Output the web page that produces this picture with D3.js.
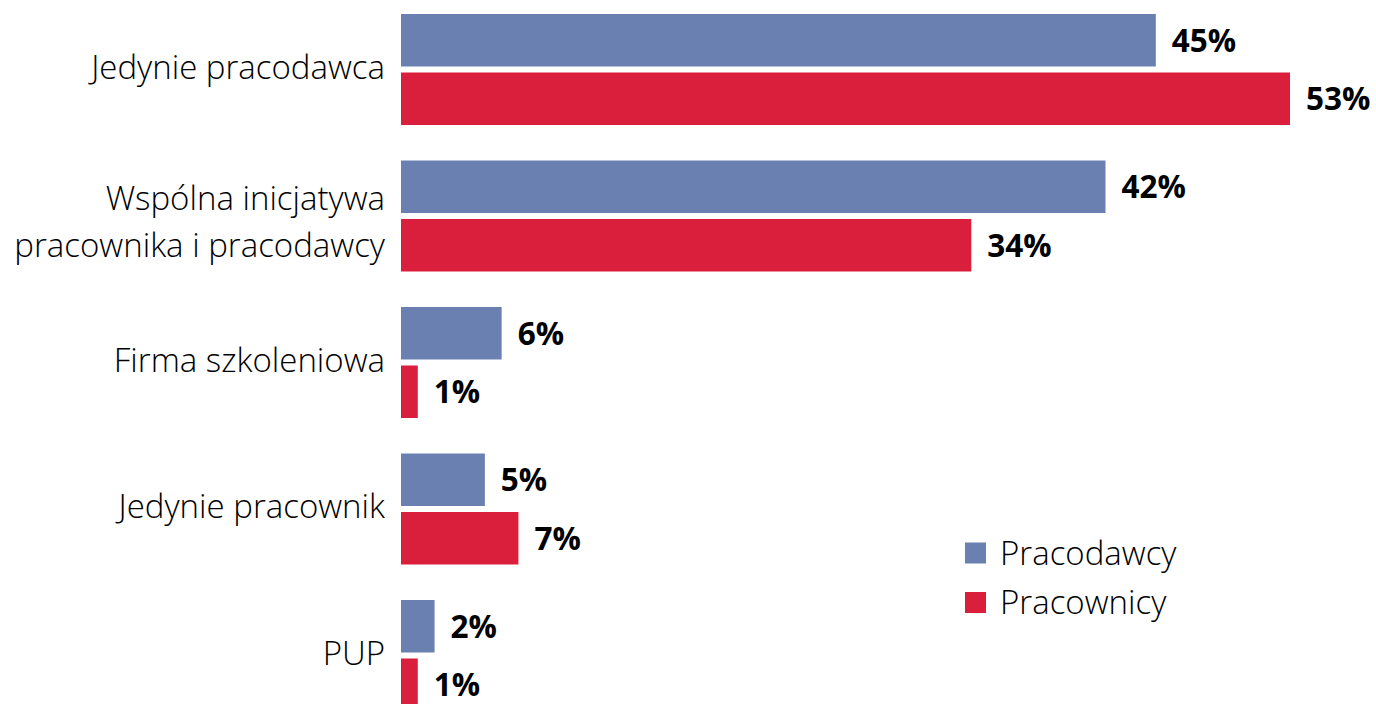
<!DOCTYPE html>
<html><head><meta charset="utf-8">
<script src="https://cdn.jsdelivr.net/npm/d3@7"></script>
<style>body{margin:0;background:#fff}svg{display:block}</style>
</head><body>
<script>
const categories = [["Jedynie pracodawca"], ["Wspólna inicjatywa", "pracownika i pracodawcy"], ["Firma szkoleniowa"], ["Jedynie pracownik"], ["PUP"]];
const seriesNames = ["Pracodawcy", "Pracownicy"];
const pracodawcy = [45, 42, 6, 5, 2];
const pracownicy = [53, 34, 1, 7, 1];
const colors = ["#6A80B1", "#D91F3C"];

const W = 1376, H = 704;
const svg = d3.select("body").append("svg").attr("width", W).attr("height", H);
const catKeys = categories.map((c, i) => i);
const y0 = d3.scaleBand().domain(catKeys).range([-3.75, 728.75]).paddingInner(0.2423).paddingOuter(0.12115);
const y1 = d3.scaleBand().domain(seriesNames).range([0, y0.bandwidth()]).paddingInner(0.1026);
const x = d3.scaleLinear().domain([0, 53]).range([401, 1290]);
const values = [pracodawcy, pracownicy];
const labelFont = "'Open Sans', sans-serif";

const g = svg.append("g");
catKeys.forEach(i => {
  seriesNames.forEach((s, si) => {
    const v = values[si][i];
    const yy = y0(i) + y1(s);
    g.append("rect").attr("x", x(0)).attr("y", yy).attr("width", x(v) - x(0)).attr("height", y1.bandwidth()).attr("fill", colors[si]);
    g.append("text").attr("x", x(v) + 16).attr("y", yy + y1.bandwidth() / 2).attr("dy", "0.36em")
      .attr("font-family", labelFont).attr("font-weight", 700).attr("font-size", 31.5).attr("fill", "#000").text(v + "%");
  });
  const lines = categories[i];
  const n = lines.length;
  const cy = y0(i) + y0.bandwidth() / 2;
  const lh = 47;
  lines.forEach((ln, li) => {
    g.append("text").attr("x", 385).attr("y", cy + 9 + (li - (n - 1) / 2) * lh + (n - 1) * 8.5)
      .attr("text-anchor", "end").attr("font-family", labelFont).attr("font-weight", 300).attr("font-size", 33).attr("fill", "#000").text(ln);
  });
});

const leg = svg.append("g");
seriesNames.forEach((s, si) => {
  const ly = 553 + si * 49.5;
  leg.append("rect").attr("x", 965).attr("y", ly - 10.5).attr("width", 21).attr("height", 21).attr("fill", colors[si]);
  leg.append("text").attr("x", 1000).attr("y", ly).attr("dy", "0.36em").attr("font-family", labelFont).attr("font-weight", 300)
    .attr("font-size", 33).attr("fill", "#000").text(s);
});
</script>
</body></html>
